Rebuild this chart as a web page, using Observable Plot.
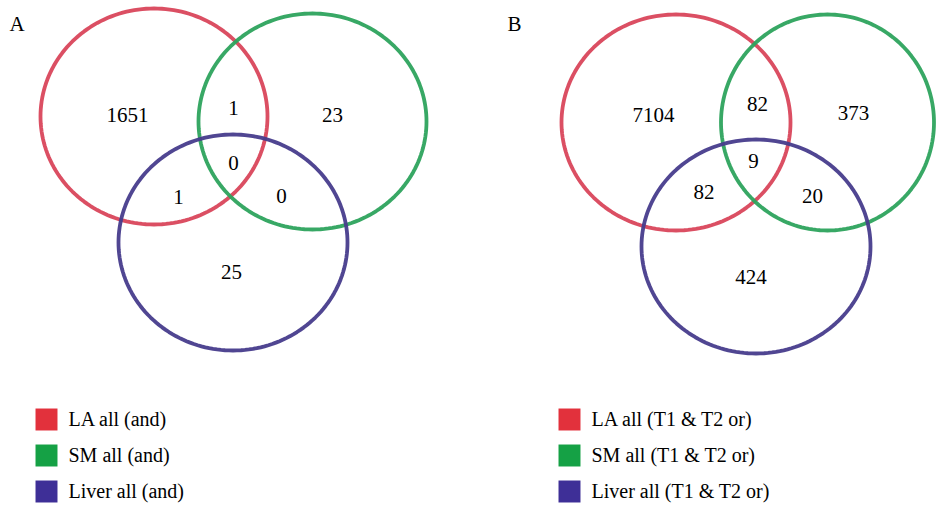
<!DOCTYPE html>
<html><head><meta charset="utf-8">
<script src="https://cdn.jsdelivr.net/npm/d3@7"></script>
<script src="https://cdn.jsdelivr.net/npm/@observablehq/plot@0.6"></script>
<style>body{margin:0;background:#fff} svg text{font-family:"Liberation Serif","Times New Roman","DejaVu Serif",serif !important;}</style>
</head><body><div id="chart"></div>
<script>
// ---- data ----
const panels = ["A", "B"];
const sets = ["LA", "SM", "Liver"];
const regions = ["LA only", "LA∩SM", "SM only", "LA∩SM∩Liver", "LA∩Liver", "SM∩Liver", "Liver only"];
const countsA = [1651, 1, 23, 0, 1, 0, 25];
const countsB = [7104, 82, 373, 9, 82, 20, 424];
const legendLabelsA = ["LA all (and)", "SM all (and)", "Liver all (and)"];
const legendLabelsB = ["LA all (T1 & T2 or)", "SM all (T1 & T2 or)", "Liver all (T1 & T2 or)"];

// ---- styling / layout ----
const circleColors = ["#d9465b", "#2da35d", "#473c8c"];
const legendColors = ["#e2313c", "#15a145", "#3e2f97"];
// circle layout (centre x, centre y, rx, ry) per panel, order LA, SM, Liver
const circlesA = [[153.5, 116, 113.5, 108], [312, 121, 114, 108], [232.5, 242, 114.5, 108]];
const circlesB = [[675.5, 122, 114.5, 108], [827, 122, 106.5, 108], [755.5, 246, 114.5, 107]];
// label anchors per region (same order as regions)
const labelPosA = [[127, 114.5], [233, 108], [332, 115], [233, 163], [178, 197], [281, 196], [231, 272]];
const labelPosB = [[653, 115], [757, 103.5], [853, 113], [753, 161], [703.5, 192], [812, 196], [750.5, 277]];
const panelLetterPos = [[9, 24], [507, 24]];
const legendX = [46, 569];
const legendY0 = 419, legendStep = 36;

// ---- build tables ----
const ellipsePts = [];
[[circlesA, "A"], [circlesB, "B"]].forEach(([circles, p]) => {
  circles.forEach(([cx, cy, rx, ry], i) => {
    for (let k = 0; k <= 180; k++) {
      const t = (k / 180) * 2 * Math.PI;
      ellipsePts.push({key: p + sets[i], set: sets[i], color: circleColors[i], x: cx + rx * Math.cos(t), y: cy + ry * Math.sin(t)});
    }
  });
});
const labels = [];
[[countsA, labelPosA], [countsB, labelPosB]].forEach(([counts, pos], pi) => {
  counts.forEach((c, i) => labels.push({panel: panels[pi], region: regions[i], text: String(c), x: pos[i][0], y: pos[i][1]}));
});
const letters = panels.map((p, i) => ({text: p, x: panelLetterPos[i][0], y: panelLetterPos[i][1]}));
const legend = [];
[legendLabelsA, legendLabelsB].forEach((labs, pi) => {
  labs.forEach((l, i) => legend.push({text: l, color: legendColors[i], x: legendX[pi], y: legendY0 + i * legendStep}));
});

const serif = "Liberation Serif, Times New Roman, DejaVu Serif, serif";
const chart = Plot.plot({
  width: 936,
  height: 505,
  margin: 0,
  x: {domain: [0, 936], axis: null},
  y: {domain: [0, 505], reverse: true, axis: null},
  style: {background: "#fff", fontFamily: serif},
  marks: [
    Plot.line(ellipsePts, {x: "x", y: "y", z: "key", stroke: d => d.color, strokeWidth: 3.8, strokeOpacity: 0.95}),
    Plot.text(labels, {x: "x", y: "y", text: "text", fontSize: 21, fill: "#000", lineAnchor: "middle"}),
    Plot.text(letters, {x: "x", y: "y", text: "text", fontSize: 21, fill: "#000", textAnchor: "start", lineAnchor: "middle"}),
    Plot.dot(legend, {x: "x", y: "y", symbol: "square", r: 12.4, fill: d => d.color, stroke: "none"}),
    Plot.text(legend, {x: d => d.x + 22, y: "y", text: "text", fontSize: 20, fill: "#000", textAnchor: "start", lineAnchor: "middle"})
  ]
});
document.getElementById("chart").append(chart);
</script>
</body></html>
